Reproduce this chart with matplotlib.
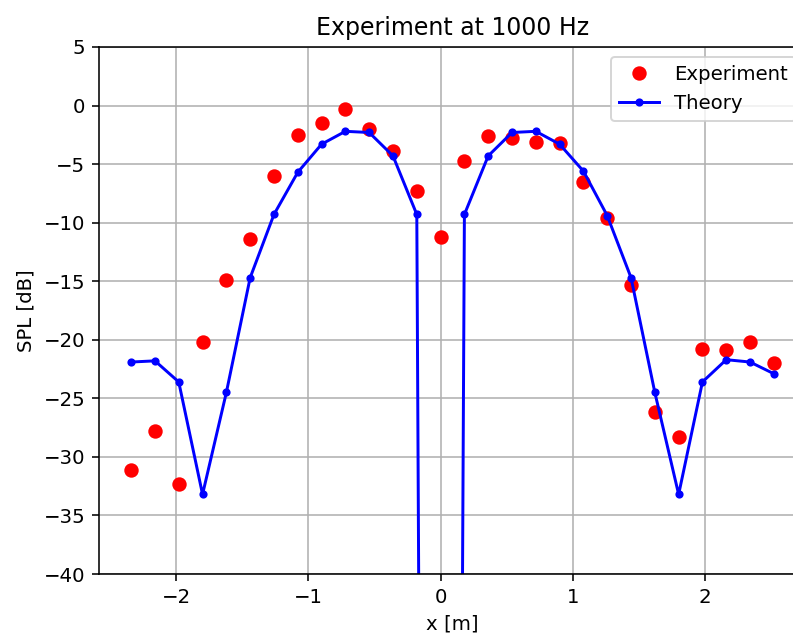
import matplotlib
matplotlib.use("Agg")
import matplotlib.pyplot as plt

# Microphone positions along the array [m]
x_pos = [-2.34, -2.16, -1.98, -1.80, -1.62, -1.44, -1.26, -1.08, -0.90, -0.72,
         -0.54, -0.36, -0.18, 0.00, 0.18, 0.36, 0.54, 0.72, 0.90, 1.08,
         1.26, 1.44, 1.62, 1.80, 1.98, 2.16, 2.34, 2.52]

# Measured sound pressure level [dB]
spl_experiment = [-31.1, -27.8, -32.3, -20.2, -14.9, -11.4, -6.0, -2.5, -1.5, -0.3,
                  -2.0, -3.9, -7.3, -11.2, -4.7, -2.6, -2.8, -3.1, -3.2, -6.5,
                  -9.6, -15.3, -26.2, -28.3, -20.8, -20.9, -20.2, -22.0]

# Predicted sound pressure level [dB] (deep null on the axis)
spl_theory = [-21.9, -21.8, -23.6, -33.2, -24.5, -14.7, -9.3, -5.7, -3.3, -2.2,
              -2.3, -4.3, -9.3, -400.0, -9.3, -4.3, -2.3, -2.2, -3.3, -5.6,
              -9.4, -14.7, -24.5, -33.2, -23.6, -21.7, -21.9, -22.9]

DPI = 142
W, H = 793, 635
fig = plt.figure(figsize=(W / DPI, H / DPI), dpi=DPI)
ax = fig.add_axes([99 / W, 1 - 574 / H, (806 - 99) / W, (574 - 47) / H])

ax.plot(x_pos, spl_experiment, 'ro', markersize=6.3, label='Experiment')
ax.plot(x_pos, spl_theory, 'b.-', markersize=6.3, linewidth=1.5, label='Theory')

ax.set_xlim(-2.583, 2.763)
ax.set_ylim(-40, 5)
ax.set_xlabel('x [m]')
ax.set_ylabel('SPL [dB]')
ax.set_title('Experiment at 1000 Hz')
ax.grid(True)
ax.legend(loc='upper right')

fig.savefig('out.png', dpi=DPI)
